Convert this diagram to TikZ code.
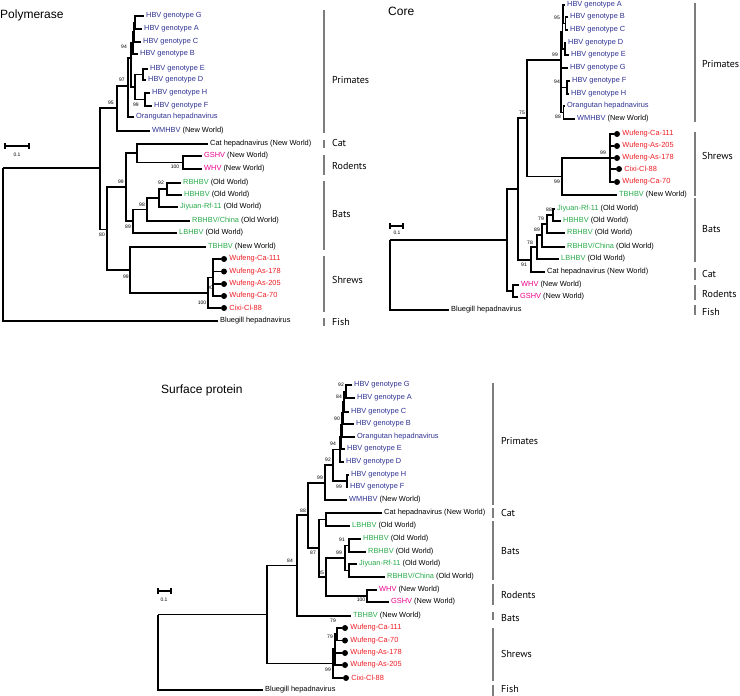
\documentclass[tikz,border=0pt]{standalone}
\usepackage{fontspec}
\setmainfont{Liberation Sans}
\newfontfamily\cladefont{PT Sans}
\usetikzlibrary{positioning}
\definecolor{hbvblue}{RGB}{46,49,146}
\definecolor{batgreen}{RGB}{40,170,75}
\definecolor{rodpink}{RGB}{236,0,140}
\definecolor{shrewred}{RGB}{237,28,36}
\definecolor{bargray}{RGB}{125,125,125}
\newcommand{\primname}[1]{\textcolor{hbvblue}{#1}}
\newcommand{\batname}[1]{\textcolor{batgreen}{#1}}
\newcommand{\rodname}[1]{\textcolor{rodpink}{#1}}
\newcommand{\shrewname}[1]{\textcolor{shrewred}{#1}}
\tikzset{
  branch/.style={line width=1.35pt, black},
  leaf/.style={anchor=west, inner xsep=2pt, inner ysep=0pt,
    font=\fontsize{7.4}{8}\selectfont},
  tipdot/.style={circle, fill=black, inner sep=0pt, minimum size=6pt},
  boot/.style={inner sep=0pt, font=\fontsize{5}{6}\selectfont},
  cladebar/.style={line width=1.2pt, bargray},
  cladelabel/.style={anchor=west, inner sep=0pt, font=\cladefont\fontsize{10}{12}\selectfont},
  treetitle/.style={anchor=west, inner sep=0pt, font=\fontsize{12}{14}\selectfont},
  scalebar/.style={line width=1.2pt, black},
  scalelabel/.style={inner sep=0pt, font=\fontsize{5}{6}\selectfont}
}

\begin{document}
\begin{tikzpicture}[x=1pt, y=-1pt]
  \useasboundingbox (0,0) rectangle (740,696);

  % ---------------- Polymerase ----------------
  \node[treetitle] (ptitle) at (0,15) {Polymerase};

  \node[leaf] (pG) at (144,16) {\primname{HBV genotype G}};
  \node[leaf] (pA) at (142,29) {\primname{HBV genotype A}};
  \node[leaf] (pC) at (141,42) {\primname{HBV genotype C}};
  \node[leaf] (pB) at (138,54) {\primname{HBV genotype B}};
  \node[leaf] (pE) at (148,69) {\primname{HBV genotype E}};
  \node[leaf] (pD) at (146,80) {\primname{HBV genotype D}};
  \node[leaf] (pH) at (150,93) {\primname{HBV genotype H}};
  \node[leaf] (pF) at (152,106) {\primname{HBV genotype F}};
  \node[leaf] (pO) at (134,117) {\primname{Orangutan hepadnavirus}};
  \node[leaf] (pWM) at (150,131) {\primname{WMHBV} (New World)};
  \node[leaf] (pCat) at (208,144) {Cat hepadnavirus (New World)};
  \node[leaf] (pGS) at (202,156) {\rodname{GSHV} (New World)};
  \node[leaf] (pWH) at (202,169) {\rodname{WHV} (New World)};
  \node[leaf] (pRB) at (181,183) {\batname{RBHBV} (Old World)};
  \node[leaf] (pHB) at (182,195) {\batname{HBHBV} (Old World)};
  \node[leaf] (pJY) at (178,207) {\batname{Jiyuan-Rf-11} (Old World)};
  \node[leaf] (pRC) at (190,221) {\batname{RBHBV/China} (Old World)};
  \node[leaf] (pLB) at (177,233) {\batname{LBHBV} (Old World)};
  \node[leaf] (pTB) at (206,247) {\batname{TBHBV} (New World)};
  \node[tipdot] (pdCa111) at (224,259) {};
  \node[leaf, right=0pt of pdCa111] (pCa111) {\shrewname{Wufeng-Ca-111}};
  \node[tipdot] (pdAs178) at (224,271.5) {};
  \node[leaf, right=0pt of pdAs178] (pAs178) {\shrewname{Wufeng-As-178}};
  \node[tipdot] (pdAs205) at (224,284) {};
  \node[leaf, right=0pt of pdAs205] (pAs205) {\shrewname{Wufeng-As-205}};
  \node[tipdot] (pdCa70) at (224,296) {};
  \node[leaf, right=0pt of pdCa70] (pCa70) {\shrewname{Wufeng-Ca-70}};
  \node[tipdot] (pdCixi) at (224,308) {};
  \node[leaf, right=0pt of pdCixi] (pCixi) {\shrewname{Cixi-Cl-88}};
  \node[leaf] (pBG) at (218,321) {Bluegill hepadnavirus};

  \coordinate (pnGA) at (135,22.5);
  \coordinate (pnGAC) at (134,32);
  \coordinate (pnGACB) at (133,43);
  \coordinate (pnED) at (143,74.5);
  \coordinate (pnHF) at (145,99.5);
  \coordinate (pnEDHF) at (135,87);
  \coordinate (pn1) at (131,58);
  \coordinate (pn94) at (128,86);
  \coordinate (pn97) at (117,108);
  \coordinate (pnRod) at (183,162.5);
  \coordinate (pnCat) at (137,153);
  \coordinate (pnRH) at (167,189);
  \coordinate (pnJ) at (159,198);
  \coordinate (pn98) at (147,209.5);
  \coordinate (pn89) at (133,221);
  \coordinate (pn99b) at (126,187);
  \coordinate (pnW) at (213,277.5);
  \coordinate (pn100) at (208,293);
  \coordinate (pn99s) at (130,270);
  \coordinate (pn80) at (107,229.5);
  \coordinate (pn95) at (100,168);
  \coordinate (pnR) at (3,168);

  \draw[branch] (pnGA) |- (pG.west) (pnGA) |- (pA.west)
    (pnGAC) |- (pnGA) (pnGAC) |- (pC.west)
    (pnGACB) |- (pnGAC) (pnGACB) |- (pB.west)
    (pnED) |- (pE.west) (pnED) |- (pD.west)
    (pnHF) |- (pH.west) (pnHF) |- (pF.west)
    (pnEDHF) |- (pnED) (pnEDHF) |- (pnHF)
    (pn1) |- (pnGACB) (pn1) |- (pnEDHF)
    (pn94) |- (pn1) (pn94) |- (pO.west)
    (pn97) |- (pn94) (pn97) |- (pWM.west)
    (pnRod) |- (pGS.west) (pnRod) |- (pWH.west)
    (pnCat) |- (pCat.west) (pnCat) |- (pnRod)
    (pnRH) |- (pRB.west) (pnRH) |- (pHB.west)
    (pnJ) |- (pnRH) (pnJ) |- (pJY.west)
    (pn98) |- (pnJ) (pn98) |- (pRC.west)
    (pn89) |- (pn98) (pn89) |- (pLB.west)
    (pn99b) |- (pnCat) (pn99b) |- (pn89)
    (pnW) |- (pdCa111.west) (pnW) |- (pdAs178.west)
    (pnW) |- (pdAs205.west) (pnW) |- (pdCa70.west)
    (pn100) |- (pnW) (pn100) |- (pdCixi.west)
    (pn99s) |- (pTB.west) (pn99s) |- (pn100)
    (pn80) |- (pn99b) (pn80) |- (pn99s)
    (pn95) |- (pn97) (pn95) |- (pn80)
    (pnR) |- (pn95) (pnR) |- (pBG.west);

  \node[boot] (pb1) at (124,47) {94};
  \node[boot] (pb2) at (122,80) {97};
  \node[boot] (pb3) at (111,103) {95};
  \node[boot] (pb4) at (136,105) {99};
  \node[boot] (pb5) at (175,167) {100};
  \node[boot] (pb6) at (121,182) {99};
  \node[boot] (pb7) at (161,183) {92};
  \node[boot] (pb8) at (142,205) {98};
  \node[boot] (pb9) at (128,227) {89};
  \node[boot] (pb10) at (102,235) {80};
  \node[boot] (pb11) at (126,277) {99};
  \node[boot] (pb12) at (210,288) {90};
  \node[boot] (pb13) at (202,303) {100};

  \draw[scalebar] (5,143) -- (5,149) (5,146) -- (29,146) (29,143) -- (29,149);
  \node[scalelabel] (pscale) at (17,155) {0.1};

  \draw[cladebar] (324,10) -- (324,133);
  \node[cladelabel] (pPrim) at (332,80) {Primates};
  \draw[cladebar] (324,140) -- (324,148);
  \node[cladelabel] (pCatL) at (332,143) {Cat};
  \draw[cladebar] (324,155) -- (324,175);
  \node[cladelabel] (pRodL) at (332,166) {Rodents};
  \draw[cladebar] (324,181) -- (324,250);
  \node[cladelabel] (pBatL) at (332,214) {Bats};
  \draw[cladebar] (324,256) -- (324,312);
  \node[cladelabel] (pShrL) at (332,280) {Shrews};
  \draw[cladebar] (324,318) -- (324,326);
  \node[cladelabel] (pFishL) at (332,322) {Fish};

  % ---------------- Core ----------------
  \node[treetitle] (ctitle) at (388,11) {Core};

  \node[leaf] (cA) at (565,5) {\primname{HBV genotype A}};
  \node[leaf] (cB) at (568,17) {\primname{HBV genotype B}};
  \node[leaf] (cC) at (568,30) {\primname{HBV genotype C}};
  \node[leaf] (cD) at (566,43) {\primname{HBV genotype D}};
  \node[leaf] (cE) at (569,55) {\primname{HBV genotype E}};
  \node[leaf] (cG) at (568,68) {\primname{HBV genotype G}};
  \node[leaf] (cF) at (570,81) {\primname{HBV genotype F}};
  \node[leaf] (cH) at (569,94) {\primname{HBV genotype H}};
  \node[leaf] (cO) at (565,106) {\primname{Orangutan hepadnavirus}};
  \node[leaf] (cWM) at (575,119) {\primname{WMHBV} (New World)};
  \node[tipdot] (cdCa111) at (617,134) {};
  \node[leaf, right=0pt of cdCa111] (cCa111) {\shrewname{Wufeng-Ca-111}};
  \node[tipdot] (cdAs205) at (617,146) {};
  \node[leaf, right=0pt of cdAs205] (cAs205) {\shrewname{Wufeng-As-205}};
  \node[tipdot] (cdAs178) at (617,158) {};
  \node[leaf, right=0pt of cdAs178] (cAs178) {\shrewname{Wufeng-As-178}};
  \node[tipdot] (cdCixi) at (619,169) {};
  \node[leaf, right=0pt of cdCixi] (cCixi) {\shrewname{Cixi-Cl-88}};
  \node[tipdot] (cdCa70) at (617,182) {};
  \node[leaf, right=0pt of cdCa70] (cCa70) {\shrewname{Wufeng-Ca-70}};
  \node[leaf] (cTB) at (617,195) {\batname{TBHBV} (New World)};
  \node[leaf] (cJY) at (555,209) {\batname{Jiyuan-Rf-11} (Old World)};
  \node[leaf] (cHB) at (561,221) {\batname{HBHBV} (Old World)};
  \node[leaf] (cRB) at (565,233) {\batname{RBHBV} (Old World)};
  \node[leaf] (cRC) at (565,247) {\batname{RBHBV/China} (Old World)};
  \node[leaf] (cLB) at (559,259) {\batname{LBHBV} (Old World)};
  \node[leaf] (cCat) at (545,272) {Cat hepadnavirus (New World)};
  \node[leaf] (cWH) at (519,285) {\rodname{WHV} (New World)};
  \node[leaf] (cGS) at (518,297) {\rodname{GSHV} (New World)};
  \node[leaf] (cBG) at (449,310) {Bluegill hepadnavirus};

  \coordinate (cnBC) at (565.5,23.5);
  \coordinate (cnABC) at (563,14);
  \coordinate (cnDE) at (565,49);
  \coordinate (cn1) at (562.5,31.5);
  \coordinate (cnFH) at (567,87.5);
  \coordinate (cnOW) at (563.5,112.5);
  \coordinate (cn99) at (561,60);
  \coordinate (cnW) at (610,158);
  \coordinate (cnST) at (562,176.5);
  \coordinate (cn75) at (527,118);
  \coordinate (cn88) at (553,215);
  \coordinate (cn79) at (547,224);
  \coordinate (cn89) at (542,235);
  \coordinate (cn78) at (537,247);
  \coordinate (cn91) at (531,260);
  \coordinate (cnA) at (518,189);
  \coordinate (cnRod) at (513,291);
  \coordinate (cnB) at (507,240);
  \coordinate (cnR) at (390,240);

  \draw[branch] (cnBC) |- (cB.west) (cnBC) |- (cC.west)
    (cnABC) |- (cA.west) (cnABC) |- (cnBC)
    (cnDE) |- (cD.west) (cnDE) |- (cE.west)
    (cn1) |- (cnABC) (cn1) |- (cnDE)
    (cnFH) |- (cF.west) (cnFH) |- (cH.west)
    (cnOW) |- (cO.west) (cnOW) |- (cWM.west)
    (cn99) |- (cn1) (cn99) |- (cG.west) (cn99) |- (cnFH) (cn99) |- (cnOW)
    (cnW) |- (cdCa111.west) (cnW) |- (cdAs205.west) (cnW) |- (cdAs178.west)
    (cnW) |- (cdCixi.west) (cnW) |- (cdCa70.west)
    (cnST) |- (cnW) (cnST) |- (cTB.west)
    (cn75) |- (cn99) (cn75) |- (cnST)
    (cn88) |- (cJY.west) (cn88) |- (cHB.west)
    (cn79) |- (cn88) (cn79) |- (cRB.west)
    (cn89) |- (cn79) (cn89) |- (cRC.west)
    (cn78) |- (cn89) (cn78) |- (cLB.west)
    (cn91) |- (cn78) (cn91) |- (cCat.west)
    (cnA) |- (cn75) (cnA) |- (cn91)
    (cnRod) |- (cWH.west) (cnRod) |- (cGS.west)
    (cnB) |- (cnA) (cnB) |- (cnRod)
    (cnR) |- (cnB) (cnR) |- (cBG.west);

  \node[boot] (cb1) at (557,18) {95};
  \node[boot] (cb2) at (555,55) {99};
  \node[boot] (cb3) at (557,82) {94};
  \node[boot] (cb4) at (558,117) {88};
  \node[boot] (cb5) at (522,113) {75};
  \node[boot] (cb6) at (603,153) {99};
  \node[boot] (cb7) at (557,182) {99};
  \node[boot] (cb8) at (549,210) {88};
  \node[boot] (cb9) at (541,219) {79};
  \node[boot] (cb10) at (537,230) {89};
  \node[boot] (cb11) at (530,243) {78};
  \node[boot] (cb12) at (524,265) {91};

  \draw[scalebar] (390,223) -- (390,229) (390,226) -- (403,226) (403,223) -- (403,229);
  \node[scalelabel] (cscale) at (397,233) {0.1};

  \draw[cladebar] (695,3) -- (695,122);
  \node[cladelabel] (cPrim) at (702,64) {Primates};
  \draw[cladebar] (695,132) -- (695,196);
  \node[cladelabel] (cShrL) at (702,156) {Shrews};
  \draw[cladebar] (695,198) -- (695,262);
  \node[cladelabel] (cBatL) at (702,229) {Bats};
  \draw[cladebar] (695,268) -- (695,280);
  \node[cladelabel] (cCatL) at (702,274) {Cat};
  \draw[cladebar] (695,285) -- (695,300);
  \node[cladelabel] (cRodL) at (702,294) {Rodents};
  \draw[cladebar] (695,305) -- (695,315);
  \node[cladelabel] (cFishL) at (702,312) {Fish};

  % ---------------- Surface protein ----------------
  \node[treetitle] (stitle) at (161,390) {Surface protein};

  \node[leaf] (sG) at (352,385) {\primname{HBV genotype G}};
  \node[leaf] (sA) at (355,398) {\primname{HBV genotype A}};
  \node[leaf] (sC) at (349,412) {\primname{HBV genotype C}};
  \node[leaf] (sB) at (354,424) {\primname{HBV genotype B}};
  \node[leaf] (sO) at (355,437) {\primname{Orangutan hepadnavirus}};
  \node[leaf] (sE) at (345,449) {\primname{HBV genotype E}};
  \node[leaf] (sD) at (344,462) {\primname{HBV genotype D}};
  \node[leaf] (sH) at (349,475) {\primname{HBV genotype H}};
  \node[leaf] (sF) at (348,487) {\primname{HBV genotype F}};
  \node[leaf] (sWM) at (347,500) {\primname{WMHBV} (New World)};
  \node[leaf] (sCat) at (382,513) {Cat hepadnavirus (New World)};
  \node[leaf] (sLB) at (350,526) {\batname{LBHBV} (Old World)};
  \node[leaf] (sHB) at (361,539) {\batname{HBHBV} (Old World)};
  \node[leaf] (sRB) at (366,552) {\batname{RBHBV} (Old World)};
  \node[leaf] (sJY) at (357,564) {\batname{Jiyuan-Rf-11} (Old World)};
  \node[leaf] (sRC) at (385,577) {\batname{RBHBV/China} (Old World)};
  \node[leaf] (sWH) at (377,590) {\rodname{WHV} (New World)};
  \node[leaf] (sGS) at (389,602) {\rodname{GSHV} (New World)};
  \node[leaf] (sTB) at (351,616) {\batname{TBHBV} (New World)};
  \node[tipdot] (sdCa111) at (345,628) {};
  \node[leaf, right=0pt of sdCa111] (sCa111) {\shrewname{Wufeng-Ca-111}};
  \node[tipdot] (sdCa70) at (345,640.5) {};
  \node[leaf, right=0pt of sdCa70] (sCa70) {\shrewname{Wufeng-Ca-70}};
  \node[tipdot] (sdAs178) at (345,653) {};
  \node[leaf, right=0pt of sdAs178] (sAs178) {\shrewname{Wufeng-As-178}};
  \node[tipdot] (sdAs205) at (345,665) {};
  \node[leaf, right=0pt of sdAs205] (sAs205) {\shrewname{Wufeng-As-205}};
  \node[tipdot] (sdCixi) at (346,678) {};
  \node[leaf, right=0pt of sdCixi] (sCixi) {\shrewname{Cixi-Cl-88}};
  \node[leaf] (sBG) at (263,690) {Bluegill hepadnavirus};

  \coordinate (snGA) at (346,391.5);
  \coordinate (snGAC) at (344,402);
  \coordinate (snGACB) at (343,413);
  \coordinate (snO) at (342,425);
  \coordinate (snE) at (341,437);
  \coordinate (snD) at (340,449.5);
  \coordinate (snHF) at (347,481);
  \coordinate (sn92) at (333,465);
  \coordinate (sn99p) at (325,483);
  \coordinate (snCL) at (326,519.5);
  \coordinate (snHR) at (349,545.5);
  \coordinate (snJR) at (349,570.5);
  \coordinate (snBat) at (345,558);
  \coordinate (snRod) at (367,596);
  \coordinate (sn85) at (326,577);
  \coordinate (sn87) at (319,548);
  \coordinate (sn88) at (308,515);
  \coordinate (sn84) at (297,565.5);
  \coordinate (sn79a) at (337,634);
  \coordinate (sn79b) at (335,649);
  \coordinate (sn99s) at (333,663.5);
  \coordinate (snX) at (267,614.5);
  \coordinate (snR) at (158,614.5);

  \draw[branch] (snGA) |- (sG.west) (snGA) |- (sA.west)
    (snGAC) |- (snGA) (snGAC) |- (sC.west)
    (snGACB) |- (snGAC) (snGACB) |- (sB.west)
    (snO) |- (snGACB) (snO) |- (sO.west)
    (snE) |- (snO) (snE) |- (sE.west)
    (snD) |- (snE) (snD) |- (sD.west)
    (snHF) |- (sH.west) (snHF) |- (sF.west)
    (sn92) |- (snD) (sn92) |- (snHF)
    (sn99p) |- (sn92) (sn99p) |- (sWM.west)
    (snCL) |- (sCat.west) (snCL) |- (sLB.west)
    (snHR) |- (sHB.west) (snHR) |- (sRB.west)
    (snJR) |- (sJY.west) (snJR) |- (sRC.west)
    (snBat) |- (snHR) (snBat) |- (snJR)
    (snRod) |- (sWH.west) (snRod) |- (sGS.west)
    (sn85) |- (snBat) (sn85) |- (snRod)
    (sn87) |- (snCL) (sn87) |- (sn85)
    (sn88) |- (sn99p) (sn88) |- (sn87)
    (sn84) |- (sn88) (sn84) |- (sTB.west)
    (sn79a) |- (sdCa111.west) (sn79a) |- (sdCa70.west)
    (sn79b) |- (sn79a) (sn79b) |- (sdAs178.west) (sn79b) |- (sdAs205.west)
    (sn99s) |- (sn79b) (sn99s) |- (sdCixi.west)
    (snX) |- (sn84) (snX) |- (sn99s)
    (snR) |- (snX) (snR) |- (sBG.west);

  \node[boot] (sb1) at (341,385) {92};
  \node[boot] (sb2) at (339,397) {84};
  \node[boot] (sb3) at (337,419) {90};
  \node[boot] (sb4) at (333,444) {94};
  \node[boot] (sb5) at (328,460) {92};
  \node[boot] (sb6) at (320,478) {99};
  \node[boot] (sb7) at (339,487) {99};
  \node[boot] (sb8) at (303,511) {88};
  \node[boot] (sb9) at (313,553) {87};
  \node[boot] (sb10) at (342,540) {91};
  \node[boot] (sb11) at (339,553) {99};
  \node[boot] (sb12) at (321,573) {85};
  \node[boot] (sb13) at (361,600) {100};
  \node[boot] (sb14) at (290,561) {84};
  \node[boot] (sb15) at (333,621) {79};
  \node[boot] (sb16) at (330,637) {79};
  \node[boot] (sb17) at (328,670) {99};

  \draw[scalebar] (158,588) -- (158,594) (158,591) -- (171,591) (171,588) -- (171,594);
  \node[scalelabel] (sscale) at (164,600) {0.1};

  \draw[cladebar] (493,383) -- (493,505);
  \node[cladelabel] (sPrim) at (501,441) {Primates};
  \draw[cladebar] (493,508) -- (493,518);
  \node[cladelabel] (sCatL) at (501,513) {Cat};
  \draw[cladebar] (493,521) -- (493,580);
  \node[cladelabel] (sBatL) at (501,551) {Bats};
  \draw[cladebar] (493,584) -- (493,605);
  \node[cladelabel] (sRodL) at (501,595) {Rodents};
  \draw[cladebar] (493,612) -- (493,620);
  \node[cladelabel] (sBatL2) at (501,618) {Bats};
  \draw[cladebar] (493,628) -- (493,681);
  \node[cladelabel] (sShrL) at (501,654) {Shrews};
  \draw[cladebar] (493,685) -- (493,696);
  \node[cladelabel] (sFishL) at (501,689) {Fish};
\end{tikzpicture}
\end{document}
